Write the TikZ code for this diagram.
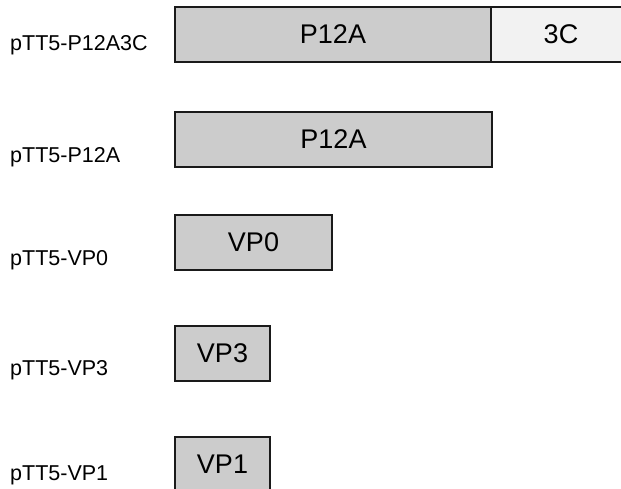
\documentclass[tikz,border=0pt]{standalone}
\usepackage{fontspec}
\setmainfont{Liberation Sans}
\definecolor{boxgray}{HTML}{CCCCCC}
\definecolor{boxlight}{HTML}{F2F2F2}
\definecolor{edge}{HTML}{1A1A1A}
\begin{document}
\begin{tikzpicture}[x=1pt,y=-1pt,
  seg/.style={draw=edge, line width=1.8pt, fill=boxgray, anchor=north west,
    inner sep=0pt, outer sep=0pt, minimum height=55pt, font=\fontsize{27}{31}\selectfont},
  lbl/.style={anchor=base west, inner sep=0pt, font=\fontsize{21.5}{25}\selectfont}]
\clip (0,0) rectangle (621,488);
\useasboundingbox (0,0) rectangle (621,488);
% row 1
\node[lbl] (l1) at (10,50) {pTT5-P12A3C};
\node[seg, minimum width=316pt] (r1a) at (175,7) {P12A};
\node[seg, minimum width=140pt, fill=boxlight, anchor=north west] (r1b) at (r1a.north east) {3C};
% row 2
\node[lbl] (l2) at (10,162) {pTT5-P12A};
\node[seg, minimum width=317pt] (r2) at (175,112) {P12A};
% row 3
\node[lbl] (l3) at (10,265) {pTT5-VP0};
\node[seg, minimum width=157pt] (r3) at (175,215) {VP0};
% row 4
\node[lbl] (l4) at (10,375) {pTT5-VP3};
\node[seg, minimum width=95pt] (r4) at (175,326) {VP3};
% row 5
\node[lbl] (l5) at (10,480) {pTT5-VP1};
\node[seg, minimum width=95pt] (r5) at (175,437) {VP1};
\end{tikzpicture}
\end{document}
